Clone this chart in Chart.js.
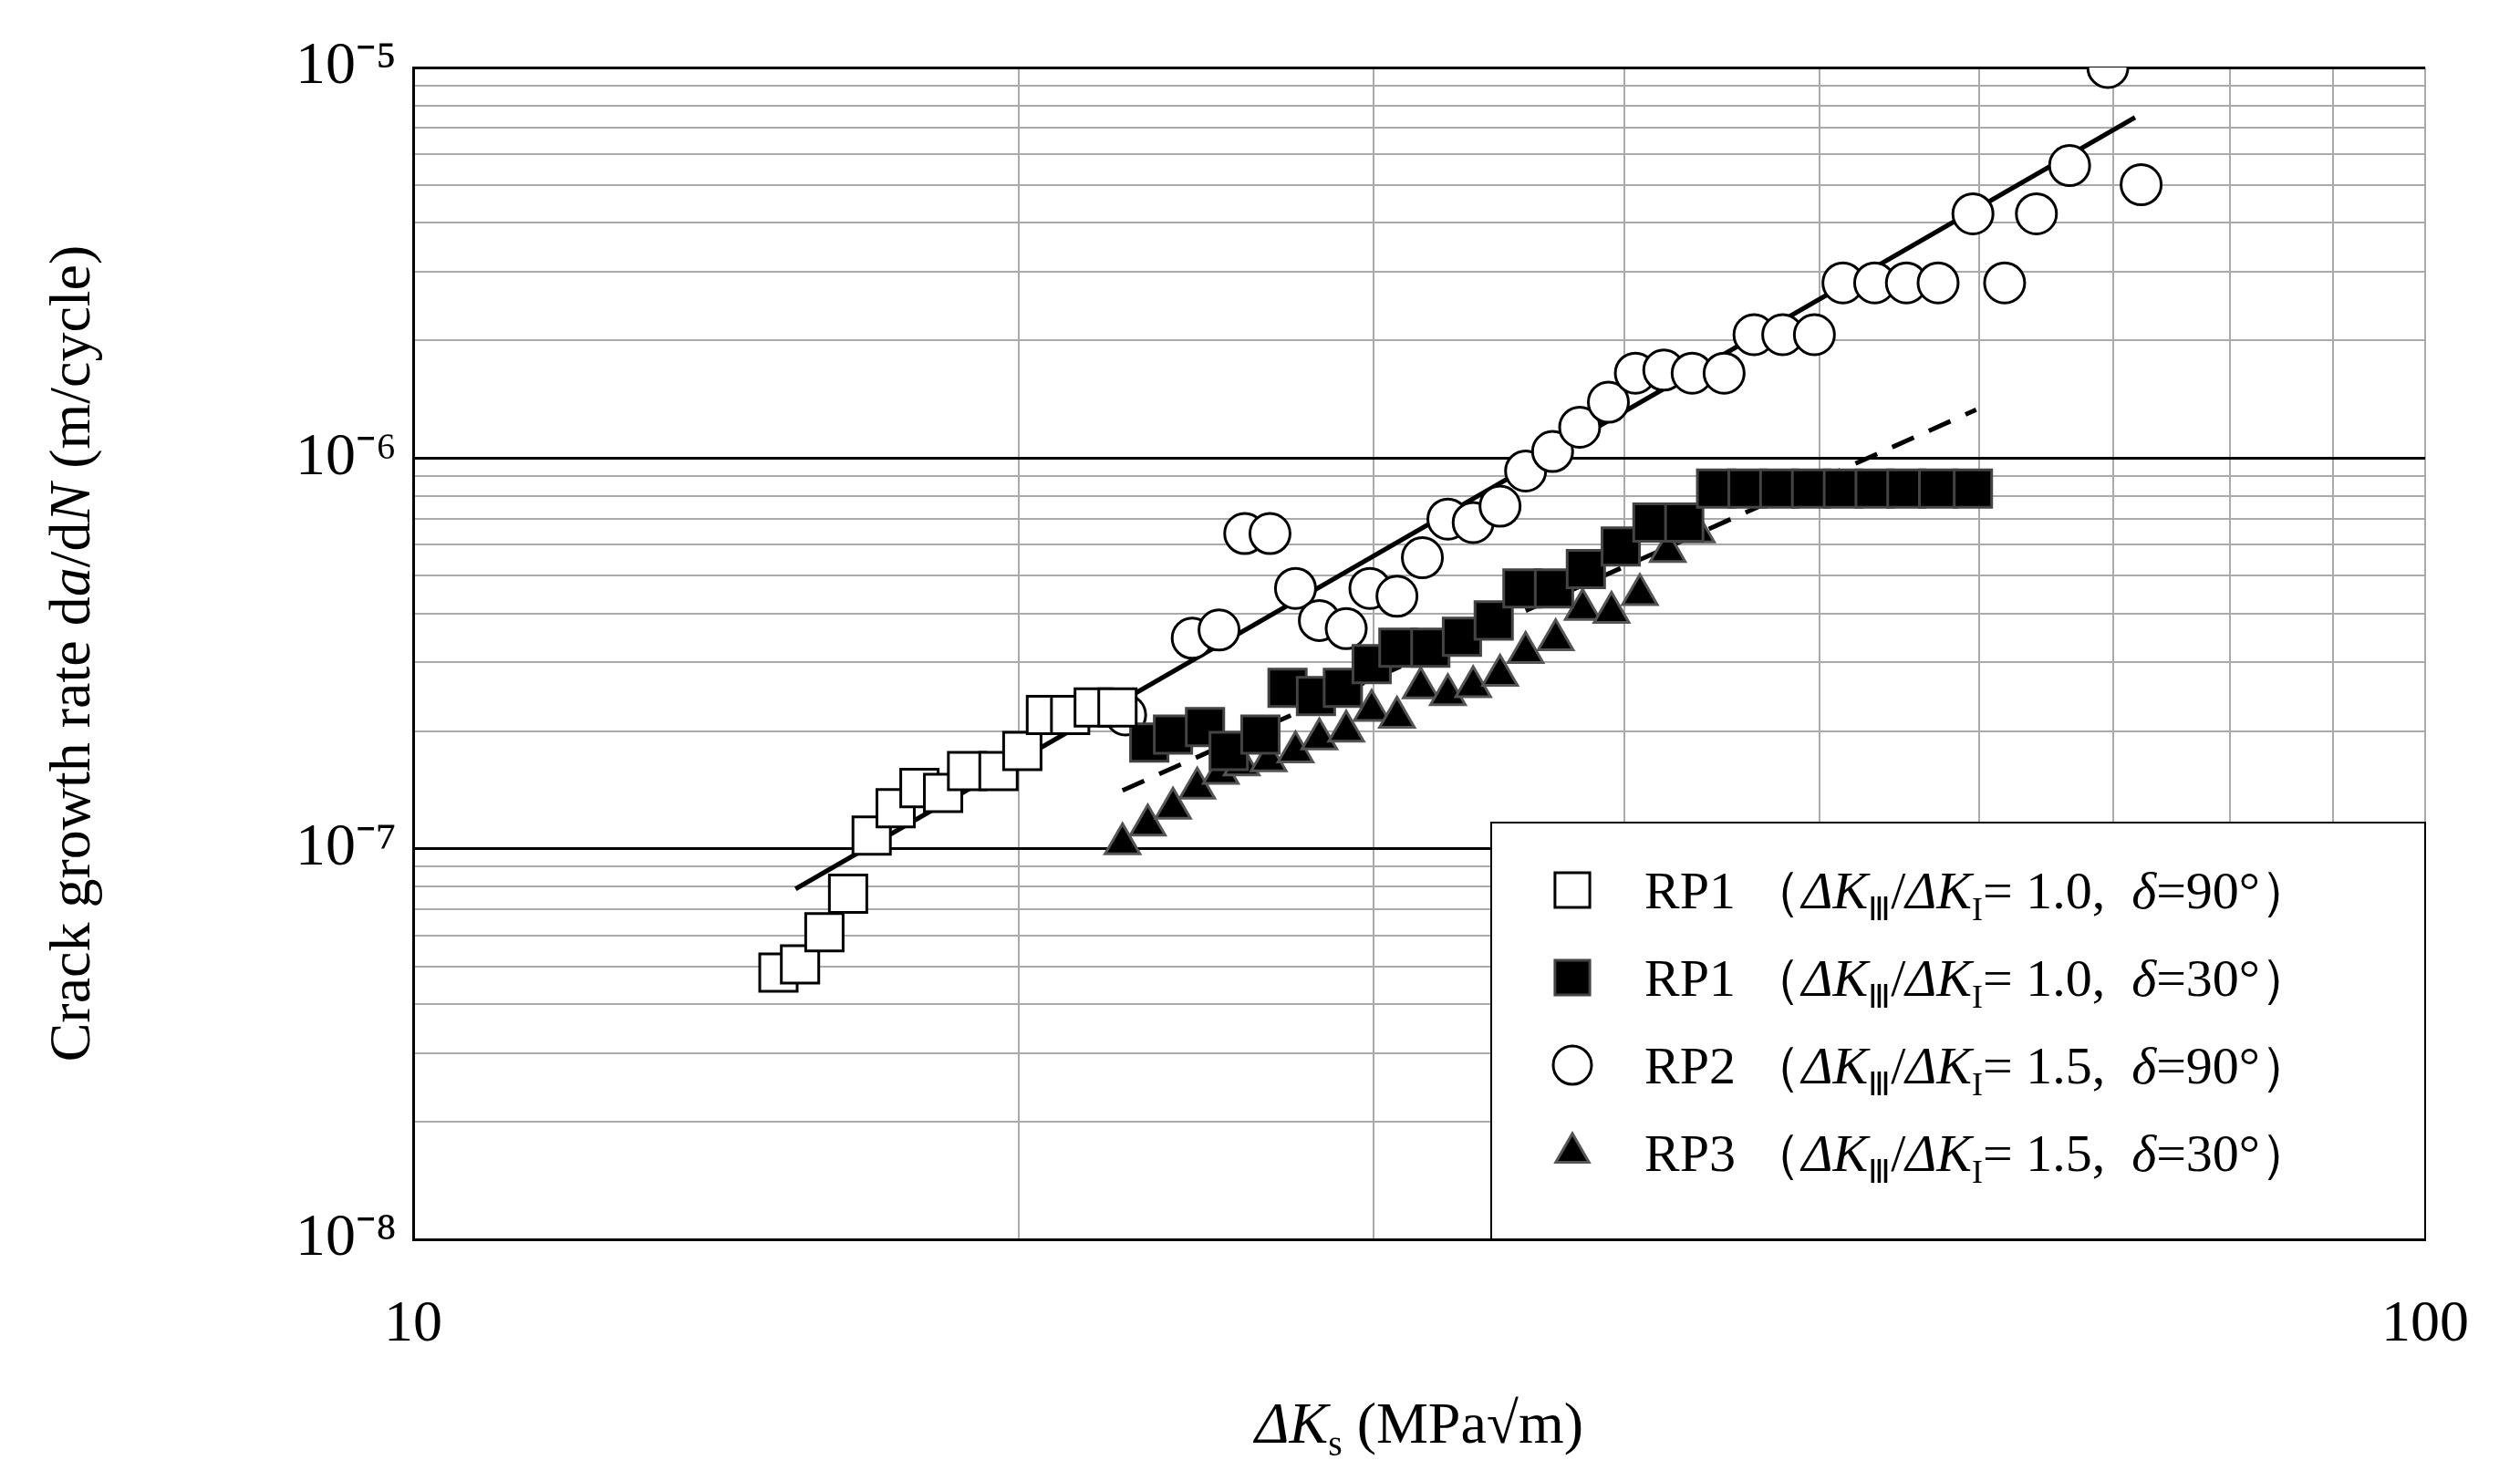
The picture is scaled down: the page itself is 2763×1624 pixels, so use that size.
<!DOCTYPE html>
<html><head><meta charset="utf-8">
<script src="https://cdn.jsdelivr.net/npm/chart.js@4/dist/chart.umd.min.js"></script>
<style>html,body{margin:0;padding:0;background:#fff}#wrap{width:2763px;height:1624px}</style>
</head><body><div id="wrap"><canvas id="c"></canvas></div>
<script>
const rp1aX=[15.19,15.57,16.01,16.45,16.90,17.37,17.85,18.34,18.85,19.54,20.08,20.63,21.21,21.79,22.39];
const rp1aY=[4.82e-8,5.06e-8,6.11e-8,7.67e-8,1.08e-7,1.27e-7,1.43e-7,1.39e-7,1.58e-7,1.58e-7,1.78e-7,2.20e-7,2.20e-7,2.30e-7,2.30e-7];
const rp1bX=[23.22,23.86,24.75,25.43,26.37,27.20,28.10,28.98,29.95,30.88,32.03,33.21,34.44,35.59,36.90,38.27,39.83,41.30,42.83,44.42,46.05,47.75,49.52,51.36,53.26,55.23,57.27,59.60];
const rp1bY=[1.87e-7,1.96e-7,2.05e-7,1.78e-7,1.96e-7,2.58e-7,2.46e-7,2.58e-7,2.97e-7,3.27e-7,3.27e-7,3.49e-7,3.84e-7,4.64e-7,4.64e-7,5.20e-7,5.94e-7,6.84e-7,6.84e-7,8.36e-7,8.36e-7,8.36e-7,8.36e-7,8.36e-7,8.36e-7,8.36e-7,8.36e-7,8.36e-7];
const rp2X=[22.60,24.39,25.15,25.90,26.66,27.45,28.21,29.09,29.89,30.83,31.74,32.68,33.64,34.69,35.72,36.84,38.00,39.27,40.50,41.84,43.22,44.83,46.39,47.94,49.71,51.36,53.26,55.23,57.27,59.60,61.80,64.09,66.57,69.55,72.25];
const rp2Y=[2.20e-7,3.46e-7,3.63e-7,6.41e-7,6.41e-7,4.64e-7,3.84e-7,3.66e-7,4.64e-7,4.43e-7,5.56e-7,6.98e-7,6.84e-7,7.53e-7,9.27e-7,1.04e-6,1.20e-6,1.39e-6,1.65e-6,1.68e-6,1.65e-6,1.65e-6,2.07e-6,2.07e-6,2.07e-6,2.81e-6,2.81e-6,2.81e-6,2.81e-6,4.22e-6,2.81e-6,4.22e-6,5.61e-6,1.0e-5,5.01e-6];
const rp3X=[22.52,23.18,23.86,24.53,25.20,25.81,26.62,27.45,28.21,29.09,29.95,30.83,31.68,32.68,33.64,34.69,35.72,36.97,38.13,39.41,40.71,42.03,43.45];
const rp3Y=[1.03e-7,1.15e-7,1.27e-7,1.43e-7,1.56e-7,1.64e-7,1.68e-7,1.77e-7,1.91e-7,2.00e-7,2.26e-7,2.17e-7,2.58e-7,2.48e-7,2.60e-7,2.78e-7,3.18e-7,3.43e-7,4.10e-7,4.03e-7,4.47e-7,5.77e-7,6.47e-7];
const fitSolidX=[15.49,71.75], fitSolidY=[7.89e-8,7.45e-6];
const fitDashX=[22.52,59.82], fitDashY=[1.41e-7,1.33e-6];
const xTicks=[10,20,30,40,50,60,70,80,90,100];
const yDecades=[1e-8,1e-7,1e-6,1e-5];
const yTickLabels=['10⁻⁸','10⁻⁷','10⁻⁶','10⁻⁵'];
const legendRows=[
 {ser:'RP1',ratio:'1.0',delta:'90'},{ser:'RP1',ratio:'1.0',delta:'30'},
 {ser:'RP2',ratio:'1.5',delta:'90'},{ser:'RP3',ratio:'1.5',delta:'30'}];

const pts=(xs,ys)=>xs.map((x,i)=>({x:x,y:ys[i]}));
const FONT='"Liberation Serif","Times New Roman",serif';
const yTicksAll=[];[1e-8,1e-7,1e-6].forEach(d=>{for(let m=1;m<=9;m++)yTicksAll.push(+(m*d).toPrecision(3));});yTicksAll.push(1e-5);
const isDec=v=>yDecades.some(d=>Math.abs(v/d-1)<1e-6);

const styles=[
 {pointStyle:'rect',pointRadius:29,backgroundColor:'#fff',borderColor:'#000'},
 {pointStyle:'rect',pointRadius:29,backgroundColor:'#000',borderColor:'#444'},
 {pointStyle:'circle',pointRadius:22,backgroundColor:'#fff',borderColor:'#000'},
 {pointStyle:'triangle',pointRadius:22,backgroundColor:'#000',borderColor:'#555'}];

function drawRich(ctx,x,y,segs,size){
 for(const s of segs){
  const fs=(s.sub||s.sup)?size*0.62:size;
  ctx.font=(s.it?'italic ':'')+fs+'px '+FONT;
  const dy=s.sub?size*0.22:(s.sup?-size*0.4:0);
  ctx.fillText(s.t,x,y+dy);x+=ctx.measureText(s.t).width;
 }
 return x;
}
function richWidth(ctx,segs,size){let w=0;segs.forEach(s=>{ctx.font=(s.it?'italic ':'')+((s.sub||s.sup)?size*0.62:size)+'px '+FONT;w+=ctx.measureText(s.t).width;});return w;}
const deco={id:'deco',afterDraw(ch){
 const ctx=ch.ctx,a=ch.chartArea;ctx.save();ctx.fillStyle='#000';ctx.textBaseline='alphabetic';
 const bx=a.right-1024,by=a.bottom-457,bw=1024,bh=457;
 ctx.fillStyle='#fff';ctx.fillRect(bx,by,bw,bh);ctx.strokeStyle='#000';ctx.lineWidth=2;ctx.strokeRect(bx,by,bw,bh);
 legendRows.forEach((r,i)=>{
  const cy=by+74+i*96;const st=styles[i];
  ctx.fillStyle=st.backgroundColor;ctx.strokeStyle=st.borderColor;ctx.lineWidth=3;
  Chart.helpers.drawPoint(ctx,{pointStyle:st.pointStyle,radius:st.pointStyle==='rect'?27:21,borderWidth:3},bx+89,cy);
  ctx.fillStyle='#000';
  drawRich(ctx,bx+168,cy+20,[{t:r.ser+' （'},{t:'ΔK',it:1},{t:'Ⅲ',sub:1},{t:'/'},{t:'ΔK',it:1},{t:'I',sub:1},{t:'= '+r.ratio+',  '},{t:'δ',it:1},{t:'='+r.delta+'°）'}],58);
 });
 let segs=[{t:'ΔK',it:1},{t:'s',sub:1},{t:' (MPa√m)'}];
 let w=richWidth(ctx,segs,64);
 drawRich(ctx,(a.left+a.right)/2-w/2,1582,segs,64);
 segs=[{t:'Crack growth rate d'},{t:'a',it:1},{t:'/d'},{t:'N',it:1},{t:' (m/cycle)'}];
 w=richWidth(ctx,segs,64);
 ctx.translate(98,(a.top+a.bottom)/2);ctx.rotate(-Math.PI/2);
 drawRich(ctx,-w/2,0,segs,64);
 ctx.restore();
}};

new Chart(document.getElementById('c'),{
 type:'scatter',
 data:{datasets:[
  {data:pts(fitSolidX,fitSolidY),showLine:true,pointRadius:0,borderColor:'#000',borderWidth:5,order:5},
  {data:pts(fitDashX,fitDashY),showLine:true,pointRadius:0,borderColor:'#000',borderWidth:5,borderDash:[26,18],order:5},
  Object.assign({data:pts(rp1aX,rp1aY),borderWidth:3,order:1},styles[0]),
  Object.assign({data:pts(rp1bX,rp1bY),borderWidth:3,order:1},styles[1]),
  Object.assign({data:pts(rp2X,rp2Y),borderWidth:3,order:1},styles[2]),
  Object.assign({data:pts(rp3X,rp3Y),borderWidth:3,order:1},styles[3])
 ]},
 options:{responsive:true,maintainAspectRatio:false,animation:false,
  layout:{padding:{top:74,right:74,left:0,bottom:0}},
  plugins:{legend:{display:false},tooltip:{enabled:false}},
  scales:{
   x:{type:'logarithmic',min:10,max:100,
    afterBuildTicks:s=>{s.ticks=xTicks.map(v=>({value:v}));},
    afterFit:s=>{s.height=265;},
    ticks:{autoSkip:false,maxRotation:0,padding:56,color:'#000',font:{family:FONT,size:64},callback:v=>(v===10||v===100)?String(v):''},
    grid:{color:'#aaa',lineWidth:2,drawTicks:false},border:{color:'#000',width:3}},
   y:{type:'logarithmic',min:1e-8,max:1e-5,
    afterBuildTicks:s=>{s.ticks=yTicksAll.map(v=>({value:v}));},
    afterFit:s=>{s.width=453;},
    ticks:{autoSkip:false,padding:18,color:'#000',font:{family:FONT,size:66},callback:v=>{const i=yDecades.findIndex(d=>Math.abs(v/d-1)<1e-6);return i>=0?yTickLabels[i]:'';}},
    grid:{color:c=>isDec(c.tick.value)?'#000':'#aaa',lineWidth:c=>isDec(c.tick.value)?3:2,drawTicks:false},border:{color:'#000',width:3}}
  }},
 plugins:[deco]
});
</script></body></html>
